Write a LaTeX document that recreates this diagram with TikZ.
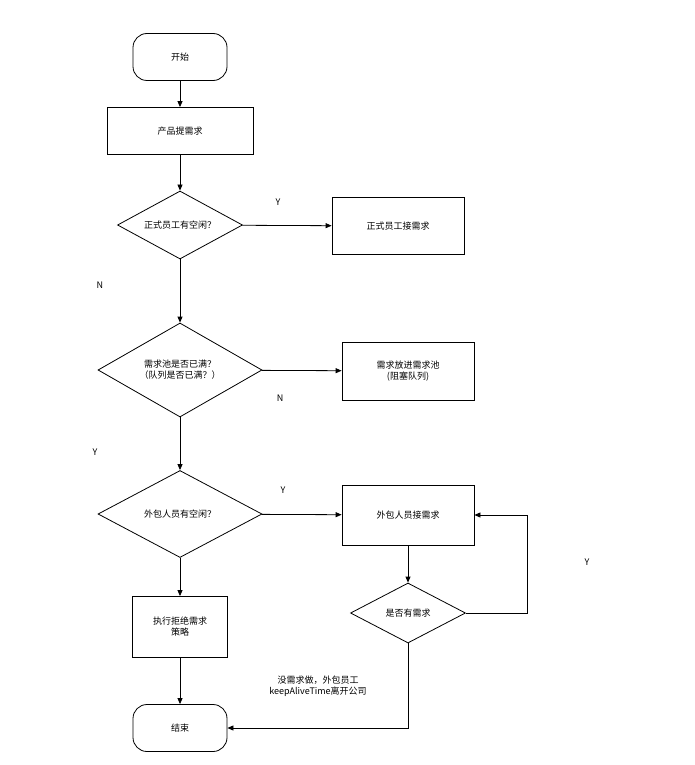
\documentclass[tikz,border=0pt]{standalone}
\usepackage{fontspec}
\setmainfont{Noto Sans CJK SC}
\usetikzlibrary{shapes.geometric,arrows.meta}

\begin{document}
\begin{tikzpicture} [x=1pt,y=-1pt,font=\fontsize{9}{11}\selectfont]
    % styles %
    \tikzset{
      box/.style={draw,thick,minimum width=#1,align=center},
      term/.style={draw,thick,rounded corners=14pt,minimum width=94pt,minimum height=47pt},
      dec/.style={draw,thick,diamond,aspect=2.4,inner sep=1pt,align=center},
      flow/.style={thick,-{Triangle[length=6pt,width=5pt]}}
    }
    \useasboundingbox (0,0) rectangle (694,765);

    % main column %
    \node [term] (start) at (180,57) {开始};
    \node [box=146pt,minimum height=47pt] (ask) at (180,131) {产品提需求};
    \node [dec,minimum width=125pt,minimum height=68pt] (free) at (180,225) {正式员工有空闲？};
    \node [box=132pt,minimum height=57pt] (staff) at (398,226) {正式员工接需求};
    \node [dec,minimum width=164pt,minimum height=94pt] (full) at (180,370) {需求池是否已满？\\（队列是否已满？）};
    \node [box=132pt,minimum height=58pt] (pool) at (408,371) {需求放进需求池\\(阻塞队列)};
    \node [dec,minimum width=164pt,minimum height=87pt] (outfree) at (180,514) {外包人员有空闲？};
    \node [box=132pt,minimum height=60pt] (out) at (408,515) {外包人员接需求};
    \node [dec,minimum width=115pt,minimum height=60pt] (more) at (408,613) {是否有需求};
    \node [box=95pt,minimum height=61pt] (reject) at (180,627) {执行拒绝需求\\策略};
    \node [term] (stop) at (180,728) {结束};
    \coordinate (loop) at (527,613);
    \coordinate (down) at (408,728);

    % connectors %
    \draw [flow] (start) -- (ask);
    \draw [flow] (ask) -- (free);
    \draw [flow] (free) -- (staff);
    \draw [flow] (free) -- (full);
    \draw [flow] (full) -- (pool);
    \draw [flow] (full) -- (outfree);
    \draw [flow] (outfree) -- (out);
    \draw [flow] (outfree) -- (reject);
    \draw [flow] (out) -- (more);
    \draw [flow] (more.east) -- (loop) |- (out.east);
    \draw [flow] (reject) -- (stop);
    \draw [flow] (more.south) -- (down) -- (stop.east);

    % labels %
    \node (y1) at (278,202) {Y};
    \node (n1) at (100,285) {N};
    \node (n2) at (280,398) {N};
    \node (y2) at (95,452) {Y};
    \node (y3) at (283,490) {Y};
    \node (y4) at (587,562) {Y};
    \node [align=center] (note) at (318,686) {没需求做，外包员工\\keepAliveTime离开公司};
\end{tikzpicture}
\end{document}
